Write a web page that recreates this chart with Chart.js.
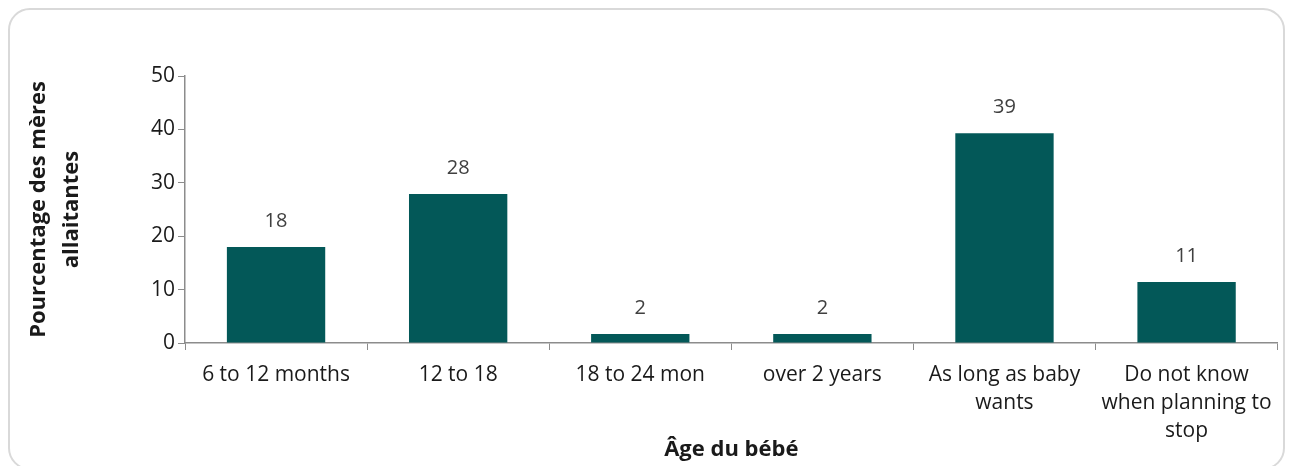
<!DOCTYPE html>
<html>
<head>
<meta charset="utf-8">
<script src="https://cdn.jsdelivr.net/npm/chart.js@4"></script>
<style>
  body { margin: 0; background: #fff; overflow: hidden; }
  #box {
    position: absolute; left: 8px; top: 8px;
    width: 1273px; height: 458px;
    border: 2px solid #d9d9d9; border-radius: 22px;
  }
</style>
</head>
<body>
<div id="box"><canvas id="myChart" width="1273" height="458"></canvas></div>
<script>
// categories along the x-axis
var ages = ['6 to 12 months', '12 to 18', '18 to 24 mon', 'over 2 years',
  ['As long as baby', 'wants'], ['Do not know', 'when planning to', 'stop']];
// bar heights and the labels printed above them
var pct = [18.0, 27.9, 1.7, 1.7, 39.3, 11.4];
var shown = ['18', '28', '2', '2', '39', '11'];
var yTicks = [0, 10, 20, 30, 40, 50];

var font = "'Open Sans', sans-serif";

// draws the value above each bar
var barLabels = {
  id: 'barLabels',
  afterDatasetsDraw: function(chart) {
    var ctx = chart.ctx;
    var meta = chart.getDatasetMeta(0);
    ctx.save();
    ctx.font = '20px ' + font;
    ctx.fillStyle = '#404040';
    ctx.textAlign = 'center';
    ctx.textBaseline = 'middle';
    meta.data.forEach(function(bar, i) {
      ctx.fillText(shown[i], bar.x, bar.y - 26);
    });
    ctx.restore();
  }
};

var myChart = new Chart(document.getElementById('myChart'), {
  type: 'bar',
  data: {
    labels: ages,
    datasets: [{
      data: pct,
      backgroundColor: '#035858',
      barPercentage: 0.54,
      categoryPercentage: 1
    }]
  },
  options: {
    responsive: false,
    animation: false,
    layout: { padding: { left: 12, right: 5, top: 66, bottom: 5 } },
    plugins: { legend: { display: false }, tooltip: { enabled: false } },
    scales: {
      x: {
        grid: { drawOnChartArea: false, offset: true, tickLength: 7, color: '#8c8c8c' },
        border: { color: '#8c8c8c', width: 1.5 },
        ticks: { color: '#1a1a1a', font: { family: font, size: 21, lineHeight: 1.33 }, maxRotation: 0, padding: 11 },
        title: { display: true, text: 'Âge du bébé', color: '#1a1a1a',
          font: { family: font, size: 22, weight: 'bold' }, padding: 0 },
        afterFit: function(s) { s.height = 120; }
      },
      y: {
        min: 0, max: 50,
        afterBuildTicks: function(s) { s.ticks = yTicks.map(function(v) { return { value: v }; }); },
        grid: { drawOnChartArea: false, tickLength: 7, color: '#8c8c8c' },
        border: { color: '#8c8c8c', width: 1.5 },
        ticks: { color: '#1a1a1a', font: { family: font, size: 21 }, padding: 3 },
        title: { display: true, text: ['Pourcentage des mères', 'allaitantes'], color: '#1a1a1a',
          font: { family: font, size: 22, weight: 'bold', lineHeight: 1.5 }, padding: 0 },
        afterFit: function(s) { s.width = 163; }
      }
    }
  },
  plugins: [barLabels]
});
</script>
</body>
</html>
